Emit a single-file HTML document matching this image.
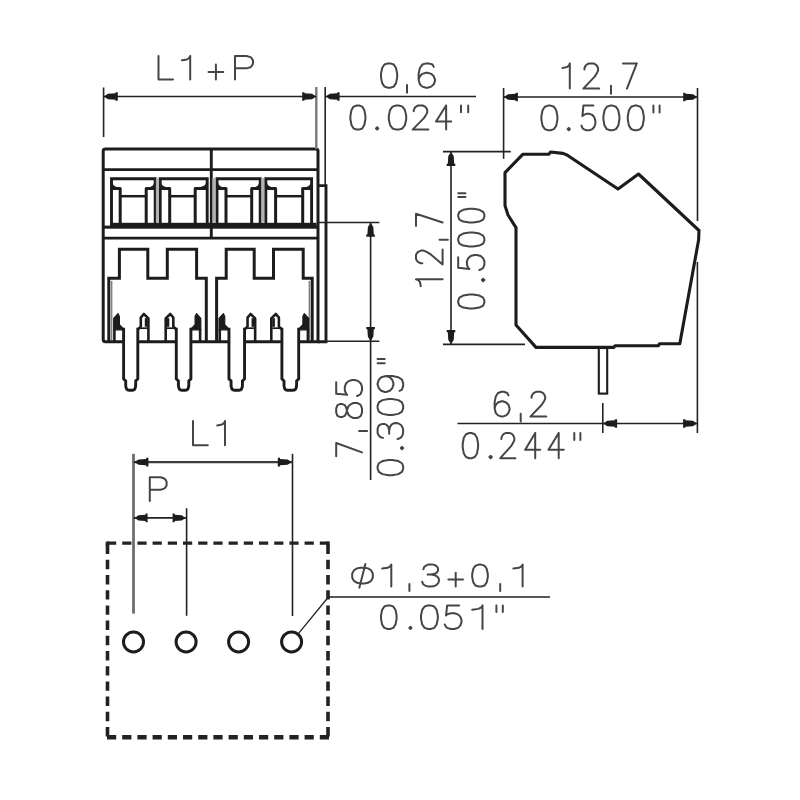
<!DOCTYPE html>
<html><head><meta charset="utf-8"><title>Dimension drawing</title>
<style>
html,body{margin:0;padding:0;background:#fff;font-family:"Liberation Sans",sans-serif;}
svg{display:block}
</style></head><body>
<svg width="800" height="800" viewBox="0 0 800 800">
<defs><filter id="soft" x="0" y="0" width="800" height="800" filterUnits="userSpaceOnUse"><feGaussianBlur stdDeviation="0.5"/></filter></defs>
<rect width="800" height="800" fill="#fff"/>
<g filter="url(#soft)">
<rect width="800" height="800" fill="#fff"/>
<path d="M105.3,149 H316 Q318,149 318,151 V341.8 H105.3 Q103.2,341.8 103.2,339.6 V151.2 Q103.2,149 105.3,149 Z" fill="none" stroke="#1f1b1c" stroke-width="3.00"/>
<line x1="103.20" y1="169.60" x2="318.00" y2="169.60" stroke="#1f1b1c" stroke-width="2.90" stroke-linecap="butt"/>
<rect x="103.2" y="225.6" width="214" height="3.1" fill="#1f1b1c"/>
<rect x="110" y="222.8" width="206.5" height="3.2" fill="#1f1b1c"/>
<line x1="103.20" y1="238.10" x2="318.00" y2="238.10" stroke="#1f1b1c" stroke-width="2.70" stroke-linecap="butt"/>
<line x1="211.30" y1="149.00" x2="211.30" y2="238.10" stroke="#1f1b1c" stroke-width="2.90" stroke-linecap="butt"/>
<path d="M111.50,224.00 L111.50,178.80 L155.20,178.80 L155.20,224.00" fill="none" stroke="#1f1b1c" stroke-width="2.90" stroke-linejoin="miter"/>
<path d="M111.50,188.4 H120.20 V223" fill="none" stroke="#1f1b1c" stroke-width="3.0" stroke-linejoin="round"/>
<path d="M155.20,188.4 H146.20 V223" fill="none" stroke="#1f1b1c" stroke-width="3.0" stroke-linejoin="round"/>
<path d="M112.50,182.5 Q113.50,187 118.70,187.6 V189 H112.50 Z" fill="#1f1b1c"/>
<path d="M154.20,182.5 Q153.20,187 147.70,187.6 V189 H154.20 Z" fill="#1f1b1c"/>
<line x1="120.20" y1="196.20" x2="146.20" y2="196.20" stroke="#1f1b1c" stroke-width="2.50" stroke-linecap="butt"/>
<path d="M160.20,224.00 L160.20,178.80 L207.20,178.80 L207.20,224.00" fill="none" stroke="#1f1b1c" stroke-width="2.90" stroke-linejoin="miter"/>
<path d="M160.20,188.4 H169.70 V223" fill="none" stroke="#1f1b1c" stroke-width="3.0" stroke-linejoin="round"/>
<path d="M207.20,188.4 H195.20 V223" fill="none" stroke="#1f1b1c" stroke-width="3.0" stroke-linejoin="round"/>
<path d="M161.20,182.5 Q162.20,187 168.20,187.6 V189 H161.20 Z" fill="#1f1b1c"/>
<path d="M206.20,182.5 Q205.20,187 196.70,187.6 V189 H206.20 Z" fill="#1f1b1c"/>
<line x1="169.70" y1="196.20" x2="195.20" y2="196.20" stroke="#1f1b1c" stroke-width="2.50" stroke-linecap="butt"/>
<path d="M217.00,224.00 L217.00,178.80 L260.20,178.80 L260.20,224.00" fill="none" stroke="#1f1b1c" stroke-width="2.90" stroke-linejoin="miter"/>
<path d="M217.00,188.4 H226.00 V223" fill="none" stroke="#1f1b1c" stroke-width="3.0" stroke-linejoin="round"/>
<path d="M260.20,188.4 H251.70 V223" fill="none" stroke="#1f1b1c" stroke-width="3.0" stroke-linejoin="round"/>
<path d="M218.00,182.5 Q219.00,187 224.50,187.6 V189 H218.00 Z" fill="#1f1b1c"/>
<path d="M259.20,182.5 Q258.20,187 253.20,187.6 V189 H259.20 Z" fill="#1f1b1c"/>
<line x1="226.00" y1="196.20" x2="251.70" y2="196.20" stroke="#1f1b1c" stroke-width="2.50" stroke-linecap="butt"/>
<path d="M265.80,224.00 L265.80,178.80 L311.60,178.80 L311.60,224.00" fill="none" stroke="#1f1b1c" stroke-width="2.90" stroke-linejoin="miter"/>
<path d="M265.80,188.4 H275.60 V223" fill="none" stroke="#1f1b1c" stroke-width="3.0" stroke-linejoin="round"/>
<path d="M311.60,188.4 H302.70 V223" fill="none" stroke="#1f1b1c" stroke-width="3.0" stroke-linejoin="round"/>
<path d="M266.80,182.5 Q267.80,187 274.10,187.6 V189 H266.80 Z" fill="#1f1b1c"/>
<path d="M310.60,182.5 Q309.60,187 304.20,187.6 V189 H310.60 Z" fill="#1f1b1c"/>
<line x1="275.60" y1="196.20" x2="302.70" y2="196.20" stroke="#1f1b1c" stroke-width="2.50" stroke-linecap="butt"/>
<line x1="157.40" y1="178.00" x2="157.40" y2="222.60" stroke="#b2b2b2" stroke-width="3.00" stroke-linecap="butt"/>
<line x1="213.90" y1="178.00" x2="213.90" y2="222.60" stroke="#b2b2b2" stroke-width="3.00" stroke-linecap="butt"/>
<line x1="262.70" y1="178.00" x2="262.70" y2="222.60" stroke="#b2b2b2" stroke-width="3.00" stroke-linecap="butt"/>
<path d="M108.80,341.80 L108.80,278.20 L119.40,278.20 L119.40,249.20 L147.80,249.20 L147.80,278.20 L167.30,278.20 L167.30,249.20 L196.60,249.20 L196.60,278.20 L206.30,278.20 L206.30,341.80" fill="none" stroke="#1f1b1c" stroke-width="3.00" stroke-linejoin="miter"/>
<path d="M216.60,341.80 L216.60,278.20 L226.20,278.20 L226.20,249.20 L254.20,249.20 L254.20,278.20 L273.50,278.20 L273.50,249.20 L303.20,249.20 L303.20,278.20 L312.20,278.20 L312.20,341.80" fill="none" stroke="#1f1b1c" stroke-width="3.00" stroke-linejoin="miter"/>
<line x1="111.60" y1="281.00" x2="111.60" y2="340.00" stroke="#808080" stroke-width="1.60" stroke-linecap="butt"/>
<line x1="309.40" y1="281.00" x2="309.40" y2="340.00" stroke="#808080" stroke-width="1.60" stroke-linecap="butt"/>
<path d="M318.00,185.60 L326.00,185.60 L326.00,341.80 L318.00,341.80" fill="none" stroke="#1f1b1c" stroke-width="2.90" stroke-linejoin="miter"/>
<rect x="123.60" y="330" width="14.20" height="14" fill="#fff"/>
<path d="M123.60,327.8 V379 L125.70,380.8 V385.4 Q126.00,390.3 129.00,390.3 H132.40 Q135.40,390.3 135.70,385.4 V380.8 L137.80,379 V327.8" fill="#fff" stroke="#1f1b1c" stroke-width="2.9" stroke-linejoin="round"/>
<path d="M113.70,329.8 V318.5 L118.00,313.6 L119.40,316.5 V324.6 L123.20,328.6 L123.20,329.8 Z" fill="#1f1b1c" stroke="#1f1b1c" stroke-width="1.2" stroke-linejoin="round"/>
<line x1="114.40" y1="329.00" x2="114.40" y2="341.50" stroke="#1f1b1c" stroke-width="2.60" stroke-linecap="butt"/>
<path d="M138.00,329.2 L140.80,326.6 V317.6 L143.80,314 L148.40,318.4 V341.5" fill="none" stroke="#1f1b1c" stroke-width="2.6" stroke-linejoin="round"/>
<path d="M146.10,318.2 V326.8" fill="none" stroke="#1f1b1c" stroke-width="2.6"/>
<line x1="138.20" y1="328.20" x2="147.40" y2="328.20" stroke="#1f1b1c" stroke-width="1.70" stroke-linecap="butt"/>
<rect x="176.30" y="330" width="14.60" height="14" fill="#fff"/>
<path d="M176.30,327.8 V379 L178.40,380.8 V385.4 Q178.70,390.3 181.70,390.3 H185.50 Q188.50,390.3 188.80,385.4 V380.8 L190.90,379 V327.8" fill="#fff" stroke="#1f1b1c" stroke-width="2.9" stroke-linejoin="round"/>
<path d="M176.10,329.2 L173.30,326.6 V317.6 L170.30,314 L165.70,318.4 V341.5" fill="none" stroke="#1f1b1c" stroke-width="2.6" stroke-linejoin="round"/>
<path d="M168.00,318.2 V326.8" fill="none" stroke="#1f1b1c" stroke-width="2.6"/>
<line x1="175.90" y1="328.20" x2="166.70" y2="328.20" stroke="#1f1b1c" stroke-width="1.70" stroke-linecap="butt"/>
<path d="M200.80,329.8 V318.5 L196.50,313.6 L195.10,316.5 V324.6 L191.30,328.6 L191.30,329.8 Z" fill="#1f1b1c" stroke="#1f1b1c" stroke-width="1.2" stroke-linejoin="round"/>
<line x1="200.10" y1="329.00" x2="200.10" y2="341.50" stroke="#1f1b1c" stroke-width="2.60" stroke-linecap="butt"/>
<rect x="228.95" y="330" width="15.60" height="14" fill="#fff"/>
<path d="M228.95,327.8 V379 L231.05,380.8 V385.4 Q231.35,390.3 234.35,390.3 H239.15 Q242.15,390.3 242.45,385.4 V380.8 L244.55,379 V327.8" fill="#fff" stroke="#1f1b1c" stroke-width="2.9" stroke-linejoin="round"/>
<path d="M219.05,329.8 V318.5 L223.35,313.6 L224.75,316.5 V324.6 L228.55,328.6 L228.55,329.8 Z" fill="#1f1b1c" stroke="#1f1b1c" stroke-width="1.2" stroke-linejoin="round"/>
<line x1="219.75" y1="329.00" x2="219.75" y2="341.50" stroke="#1f1b1c" stroke-width="2.60" stroke-linecap="butt"/>
<path d="M244.75,329.2 L247.55,326.6 V317.6 L250.55,314 L255.15,318.4 V341.5" fill="none" stroke="#1f1b1c" stroke-width="2.6" stroke-linejoin="round"/>
<path d="M252.85,318.2 V326.8" fill="none" stroke="#1f1b1c" stroke-width="2.6"/>
<line x1="244.95" y1="328.20" x2="254.15" y2="328.20" stroke="#1f1b1c" stroke-width="1.70" stroke-linecap="butt"/>
<rect x="281.90" y="330" width="16.80" height="14" fill="#fff"/>
<path d="M281.90,327.8 V379 L284.00,380.8 V385.4 Q284.30,390.3 287.30,390.3 H293.30 Q296.30,390.3 296.60,385.4 V380.8 L298.70,379 V327.8" fill="#fff" stroke="#1f1b1c" stroke-width="2.9" stroke-linejoin="round"/>
<path d="M281.70,329.2 L278.90,326.6 V317.6 L275.90,314 L271.30,318.4 V341.5" fill="none" stroke="#1f1b1c" stroke-width="2.6" stroke-linejoin="round"/>
<path d="M273.60,318.2 V326.8" fill="none" stroke="#1f1b1c" stroke-width="2.6"/>
<line x1="281.50" y1="328.20" x2="272.30" y2="328.20" stroke="#1f1b1c" stroke-width="1.70" stroke-linecap="butt"/>
<path d="M308.60,329.8 V318.5 L304.30,313.6 L302.90,316.5 V324.6 L299.10,328.6 L299.10,329.8 Z" fill="#1f1b1c" stroke="#1f1b1c" stroke-width="1.2" stroke-linejoin="round"/>
<line x1="307.90" y1="329.00" x2="307.90" y2="341.50" stroke="#1f1b1c" stroke-width="2.60" stroke-linecap="butt"/>
<line x1="103.60" y1="87.50" x2="103.60" y2="137.00" stroke="#222222" stroke-width="1.60" stroke-linecap="butt"/>
<line x1="316.30" y1="87.00" x2="316.30" y2="149.00" stroke="#7a7a7a" stroke-width="2.40" stroke-linecap="butt"/>
<line x1="325.20" y1="87.00" x2="325.20" y2="185.00" stroke="#222222" stroke-width="1.60" stroke-linecap="butt"/>
<line x1="103.60" y1="96.50" x2="316.40" y2="96.50" stroke="#222222" stroke-width="1.60" stroke-linecap="butt"/>
<polygon points="103.80,96.50 108.00,99.22 115.56,99.70 115.56,100.80 117.80,100.80 117.80,92.20 115.56,92.20 115.56,93.30 108.00,93.78" fill="#1c1c1c"/>
<polygon points="316.20,96.50 312.00,99.22 304.44,99.70 304.44,100.80 302.20,100.80 302.20,92.20 304.44,92.20 304.44,93.30 312.00,93.78" fill="#1c1c1c"/>
<line x1="325.20" y1="96.50" x2="476.00" y2="96.50" stroke="#222222" stroke-width="1.60" stroke-linecap="butt"/>
<polygon points="325.60,96.50 329.80,99.22 337.36,99.70 337.36,100.80 339.60,100.80 339.60,92.20 337.36,92.20 337.36,93.30 329.80,93.78" fill="#1c1c1c"/>
<path d="M158.50,56.00 L158.50,79.60 L173.00,79.60 M182.00,60.27 L186.92,59.48 L189.22,58.02 L190.20,56.00 L190.20,79.60 M215.90,64.58 L215.90,79.60 M208.50,72.09 L223.30,72.09 M235.00,56.00 L235.00,79.60 M235.00,56.00 L246.57,56.00 L250.43,57.12 L251.71,58.25 L253.00,60.50 L253.00,63.87 L251.71,66.11 L250.43,67.24 L246.57,68.36 L235.00,68.36" fill="none" stroke="#454545" stroke-width="2.00" stroke-linecap="round" stroke-linejoin="round"/>
<path d="M387.94,63.40 L384.47,64.56 L382.16,68.05 L381.00,73.86 L381.00,77.34 L382.16,83.15 L384.47,86.64 L387.94,87.80 L390.26,87.80 L393.73,86.64 L396.04,83.15 L397.20,77.34 L397.20,73.86 L396.04,68.05 L393.73,64.56 L390.26,63.40 L387.94,63.40 M407.00,85.01 L407.00,92.68 M433.74,66.89 L432.48,64.56 L428.69,63.40 L426.17,63.40 L422.38,64.56 L419.86,68.05 L418.60,73.86 L418.60,79.67 L419.86,84.31 L422.38,86.64 L426.17,87.80 L427.43,87.80 L431.22,86.64 L433.74,84.31 L435.00,80.83 L435.00,79.67 L433.74,76.18 L431.22,73.86 L427.43,72.70 L426.17,72.70 L422.38,73.86 L419.86,76.18 L418.60,79.67" fill="none" stroke="#454545" stroke-width="2.00" stroke-linecap="round" stroke-linejoin="round"/>
<path d="M356.83,105.50 L353.61,106.65 L351.47,110.09 L350.40,115.83 L350.40,119.27 L351.47,125.01 L353.61,128.45 L356.83,129.60 L358.97,129.60 L362.19,128.45 L364.33,125.01 L365.40,119.27 L365.40,115.83 L364.33,110.09 L362.19,106.65 L358.97,105.50 L356.83,105.50 M377.15,127.30 L376.00,128.45 L377.15,129.60 L378.30,128.45 L377.15,127.30 M396.26,105.50 L392.53,106.65 L390.04,110.09 L388.80,115.83 L388.80,119.27 L390.04,125.01 L392.53,128.45 L396.26,129.60 L398.74,129.60 L402.47,128.45 L404.96,125.01 L406.20,119.27 L406.20,115.83 L404.96,110.09 L402.47,106.65 L398.74,105.50 L396.26,105.50 M413.73,111.24 L413.73,110.09 L414.86,107.80 L415.99,106.65 L418.24,105.50 L422.76,105.50 L425.01,106.65 L426.14,107.80 L427.27,110.09 L427.27,112.39 L426.14,114.68 L423.89,118.12 L412.60,129.60 L428.40,129.60 M446.13,105.50 L436.00,121.57 L451.20,121.57 M446.13,105.50 L446.13,129.60 M461.00,105.50 L461.00,112.16 M468.20,105.50 L468.20,112.16" fill="none" stroke="#454545" stroke-width="2.00" stroke-linecap="round" stroke-linejoin="round"/>
<line x1="318.00" y1="222.50" x2="379.40" y2="222.50" stroke="#222222" stroke-width="1.60" stroke-linecap="butt"/>
<line x1="327.00" y1="341.30" x2="379.40" y2="341.30" stroke="#222222" stroke-width="1.60" stroke-linecap="butt"/>
<line x1="370.60" y1="222.50" x2="370.60" y2="480.00" stroke="#222222" stroke-width="1.60" stroke-linecap="butt"/>
<polygon points="370.60,222.80 373.32,227.00 373.80,234.56 374.90,234.56 374.90,236.80 366.30,236.80 366.30,234.56 367.40,234.56 367.88,227.00" fill="#1c1c1c"/>
<polygon points="370.60,341.00 373.32,336.80 373.80,329.24 374.90,329.24 374.90,327.00 366.30,327.00 366.30,329.24 367.40,329.24 367.88,336.80" fill="#1c1c1c"/>
<path d="M-443.00,336.20 L-452.43,362.00 M-456.20,336.20 L-443.00,336.20 M-431.00,359.05 L-431.00,367.16 M-412.64,336.20 L-415.86,337.43 L-416.93,339.89 L-416.93,342.34 L-415.86,344.80 L-413.71,346.03 L-409.43,347.26 L-406.21,348.49 L-404.07,350.94 L-403.00,353.40 L-403.00,357.09 L-404.07,359.54 L-405.14,360.77 L-408.36,362.00 L-412.64,362.00 L-415.86,360.77 L-416.93,359.54 L-418.00,357.09 L-418.00,353.40 L-416.93,350.94 L-414.79,348.49 L-411.57,347.26 L-407.29,346.03 L-405.14,344.80 L-404.07,342.34 L-404.07,339.89 L-405.14,337.43 L-408.36,336.20 L-412.64,336.20 M-382.29,336.20 L-393.71,336.20 L-394.86,347.26 L-393.71,346.03 L-390.29,344.80 L-386.86,344.80 L-383.43,346.03 L-381.14,348.49 L-380.00,352.17 L-380.00,354.63 L-381.14,358.31 L-383.43,360.77 L-386.86,362.00 L-390.29,362.00 L-393.71,360.77 L-394.86,359.54 L-396.00,357.09" fill="none" stroke="#454545" stroke-width="2.00" stroke-linecap="round" stroke-linejoin="round" transform="rotate(-90)"/>
<path d="M-468.69,377.60 L-471.94,378.82 L-474.11,382.48 L-475.20,388.57 L-475.20,392.23 L-474.11,398.32 L-471.94,401.98 L-468.69,403.20 L-466.51,403.20 L-463.26,401.98 L-461.09,398.32 L-460.00,392.23 L-460.00,388.57 L-461.09,382.48 L-463.26,378.82 L-466.51,377.60 L-468.69,377.60 M-448.08,400.76 L-449.30,401.98 L-448.08,403.20 L-446.86,401.98 L-448.08,400.76 M-437.86,383.09 L-437.17,380.53 L-435.57,378.82 L-433.29,377.60 L-428.71,377.60 L-426.09,378.58 L-424.60,380.28 L-423.91,382.48 L-423.91,384.43 L-424.83,386.62 L-426.89,388.33 L-430.43,389.18 L-433.86,389.18 M-430.43,389.18 L-426.89,390.03 L-424.60,391.50 L-423.23,393.94 L-423.00,395.89 L-423.46,398.57 L-425.29,401.25 L-428.14,402.83 L-431.00,403.20 L-433.86,402.96 L-436.71,401.74 L-438.31,399.79 L-439.00,397.59 M-408.14,377.60 L-411.57,378.82 L-413.86,382.48 L-415.00,388.57 L-415.00,392.23 L-413.86,398.32 L-411.57,401.98 L-408.14,403.20 L-405.86,403.20 L-402.43,401.98 L-400.14,398.32 L-399.00,392.23 L-399.00,388.57 L-400.14,382.48 L-402.43,378.82 L-405.86,377.60 L-408.14,377.60 M-376.00,386.13 L-377.23,389.79 L-379.69,392.23 L-383.38,393.45 L-384.62,393.45 L-388.31,392.23 L-390.77,389.79 L-392.00,386.13 L-392.00,384.91 L-390.77,381.26 L-388.31,378.82 L-384.62,377.60 L-383.38,377.60 L-379.69,378.82 L-377.23,381.26 L-376.00,386.13 L-376.00,392.23 L-377.23,398.32 L-379.69,401.98 L-383.38,403.20 L-385.85,403.20 L-389.54,401.98 L-390.77,399.54 M-363.20,377.60 L-363.20,384.67 M-359.00,377.60 L-359.00,384.67" fill="none" stroke="#454545" stroke-width="2.00" stroke-linecap="round" stroke-linejoin="round" transform="rotate(-90)"/>
<path d="M523.00,154.20 L549.00,154.20 L550.50,152.00 L563.00,153.40 L567.00,155.00 L618.00,189.00 L638.50,174.00 L699.00,230.50 L698.60,240.00 L679.80,343.70 L659.70,343.70 L658.20,345.70 L615.10,345.70 L613.70,347.40 L536.00,347.40 L516.00,325.00 L516.00,227.60 L508.00,215.00 L505.00,205.60 L505.00,172.60 Z" fill="none" stroke="#1f1b1c" stroke-width="3.10" stroke-linejoin="round"/>
<rect x="598.8" y="348" width="8.4" height="45.6" fill="#fff" stroke="#1f1b1c" stroke-width="2.1"/>
<line x1="503.60" y1="88.00" x2="503.60" y2="158.80" stroke="#222222" stroke-width="1.60" stroke-linecap="butt"/>
<line x1="697.50" y1="88.00" x2="697.50" y2="221.00" stroke="#222222" stroke-width="1.60" stroke-linecap="butt"/>
<line x1="503.60" y1="97.00" x2="697.50" y2="97.00" stroke="#222222" stroke-width="1.60" stroke-linecap="butt"/>
<polygon points="503.90,97.00 508.10,99.72 515.66,100.20 515.66,101.30 517.90,101.30 517.90,92.70 515.66,92.70 515.66,93.80 508.10,94.28" fill="#1c1c1c"/>
<polygon points="697.20,97.00 693.00,99.72 685.44,100.20 685.44,101.30 683.20,101.30 683.20,92.70 685.44,92.70 685.44,93.80 693.00,94.28" fill="#1c1c1c"/>
<path d="M562.50,67.96 L566.88,67.12 L568.92,65.56 L569.80,63.40 L569.80,88.60 M584.44,69.40 L584.44,68.20 L585.57,65.80 L586.71,64.60 L588.98,63.40 L593.52,63.40 L595.79,64.60 L596.93,65.80 L598.06,68.20 L598.06,70.60 L596.93,73.00 L594.66,76.60 L583.30,88.60 L599.20,88.60 M611.00,85.72 L611.00,93.64 M636.80,63.40 L626.94,88.60 M623.00,63.40 L636.80,63.40" fill="none" stroke="#454545" stroke-width="2.00" stroke-linecap="round" stroke-linejoin="round"/>
<path d="M548.26,105.60 L544.83,106.78 L542.54,110.30 L541.40,116.19 L541.40,119.71 L542.54,125.60 L544.83,129.12 L548.26,130.30 L550.54,130.30 L553.97,129.12 L556.26,125.60 L557.40,119.71 L557.40,116.19 L556.26,110.30 L553.97,106.78 L550.54,105.60 L548.26,105.60 M568.78,127.95 L567.60,129.12 L568.78,130.30 L569.95,129.12 L568.78,127.95 M593.40,105.60 L583.40,105.60 L582.40,116.19 L583.40,115.01 L586.40,113.83 L589.40,113.83 L592.40,115.01 L594.40,117.36 L595.40,120.89 L595.40,123.24 L594.40,126.77 L592.40,129.12 L589.40,130.30 L586.40,130.30 L583.40,129.12 L582.40,127.95 L581.40,125.60 M610.26,105.60 L606.83,106.78 L604.54,110.30 L603.40,116.19 L603.40,119.71 L604.54,125.60 L606.83,129.12 L610.26,130.30 L612.54,130.30 L615.97,129.12 L618.26,125.60 L619.40,119.71 L619.40,116.19 L618.26,110.30 L615.97,106.78 L612.54,105.60 L610.26,105.60 M634.66,105.60 L631.23,106.78 L628.94,110.30 L627.80,116.19 L627.80,119.71 L628.94,125.60 L631.23,129.12 L634.66,130.30 L636.94,130.30 L640.37,129.12 L642.66,125.60 L643.80,119.71 L643.80,116.19 L642.66,110.30 L640.37,106.78 L636.94,105.60 L634.66,105.60 M653.40,105.60 L653.40,112.42 M659.60,105.60 L659.60,112.42" fill="none" stroke="#454545" stroke-width="2.00" stroke-linecap="round" stroke-linejoin="round"/>
<line x1="443.00" y1="151.60" x2="510.80" y2="151.60" stroke="#222222" stroke-width="1.60" stroke-linecap="butt"/>
<line x1="443.00" y1="344.40" x2="525.00" y2="344.40" stroke="#222222" stroke-width="1.60" stroke-linecap="butt"/>
<line x1="451.00" y1="151.60" x2="451.00" y2="344.40" stroke="#222222" stroke-width="1.60" stroke-linecap="butt"/>
<polygon points="451.00,151.90 453.72,156.10 454.20,163.66 455.30,163.66 455.30,165.90 446.70,165.90 446.70,163.66 447.80,163.66 448.28,156.10" fill="#1c1c1c"/>
<polygon points="451.00,344.10 453.72,339.90 454.20,332.34 455.30,332.34 455.30,330.10 446.70,330.10 446.70,332.34 447.80,332.34 448.28,339.90" fill="#1c1c1c"/>
<path d="M-286.20,420.81 L-282.06,419.93 L-280.13,418.28 L-279.30,416.00 L-279.30,442.60 M-263.34,422.33 L-263.34,421.07 L-262.27,418.53 L-261.21,417.27 L-259.08,416.00 L-254.82,416.00 L-252.69,417.27 L-251.63,418.53 L-250.56,421.07 L-250.56,423.60 L-251.63,426.13 L-253.76,429.93 L-264.40,442.60 L-249.50,442.60 M-239.70,439.56 L-239.70,447.92 M-213.80,416.00 L-222.51,442.60 M-226.00,416.00 L-213.80,416.00" fill="none" stroke="#454545" stroke-width="2.00" stroke-linecap="round" stroke-linejoin="round" transform="rotate(-90)"/>
<path d="M-302.56,458.20 L-305.58,459.45 L-307.59,463.19 L-308.60,469.43 L-308.60,473.17 L-307.59,479.41 L-305.58,483.15 L-302.56,484.40 L-300.54,484.40 L-297.52,483.15 L-295.51,479.41 L-294.50,473.17 L-294.50,469.43 L-295.51,463.19 L-297.52,459.45 L-300.54,458.20 L-302.56,458.20 M-280.05,481.90 L-281.30,483.15 L-280.05,484.40 L-278.80,483.15 L-280.05,481.90 M-257.14,458.20 L-267.86,458.20 L-268.93,469.43 L-267.86,468.18 L-264.64,466.93 L-261.43,466.93 L-258.21,468.18 L-256.07,470.68 L-255.00,474.42 L-255.00,476.91 L-256.07,480.66 L-258.21,483.15 L-261.43,484.40 L-264.64,484.40 L-267.86,483.15 L-268.93,481.90 L-270.00,479.41 M-240.60,458.20 L-243.60,459.45 L-245.60,463.19 L-246.60,469.43 L-246.60,473.17 L-245.60,479.41 L-243.60,483.15 L-240.60,484.40 L-238.60,484.40 L-235.60,483.15 L-233.60,479.41 L-232.60,473.17 L-232.60,469.43 L-233.60,463.19 L-235.60,459.45 L-238.60,458.20 L-240.60,458.20 M-216.69,458.20 L-219.64,459.45 L-221.61,463.19 L-222.60,469.43 L-222.60,473.17 L-221.61,479.41 L-219.64,483.15 L-216.69,484.40 L-214.71,484.40 L-211.76,483.15 L-209.79,479.41 L-208.80,473.17 L-208.80,469.43 L-209.79,463.19 L-211.76,459.45 L-214.71,458.20 L-216.69,458.20 M-196.90,458.20 L-196.90,465.44 M-193.20,458.20 L-193.20,465.44" fill="none" stroke="#454545" stroke-width="2.00" stroke-linecap="round" stroke-linejoin="round" transform="rotate(-90)"/>
<line x1="457.50" y1="423.50" x2="697.40" y2="423.50" stroke="#222222" stroke-width="1.60" stroke-linecap="butt"/>
<line x1="602.80" y1="403.00" x2="602.80" y2="433.00" stroke="#222222" stroke-width="1.60" stroke-linecap="butt"/>
<line x1="697.40" y1="262.00" x2="697.40" y2="433.00" stroke="#222222" stroke-width="1.60" stroke-linecap="butt"/>
<polygon points="603.10,423.50 607.30,426.22 614.86,426.70 614.86,427.80 617.10,427.80 617.10,419.20 614.86,419.20 614.86,420.30 607.30,420.78" fill="#1c1c1c"/>
<polygon points="697.10,423.50 692.90,426.22 685.34,426.70 685.34,427.80 683.10,427.80 683.10,419.20 685.34,419.20 685.34,420.30 692.90,420.78" fill="#1c1c1c"/>
<path d="M508.45,395.34 L507.29,392.98 L503.83,391.80 L501.52,391.80 L498.06,392.98 L495.75,396.52 L494.60,402.43 L494.60,408.33 L495.75,413.06 L498.06,415.42 L501.52,416.60 L502.68,416.60 L506.14,415.42 L508.45,413.06 L509.60,409.51 L509.60,408.33 L508.45,404.79 L506.14,402.43 L502.68,401.25 L501.52,401.25 L498.06,402.43 L495.75,404.79 L494.60,408.33 M520.70,413.77 L520.70,421.56 M531.54,397.70 L531.54,396.52 L532.67,394.16 L533.81,392.98 L536.08,391.80 L540.62,391.80 L542.89,392.98 L544.03,394.16 L545.16,396.52 L545.16,398.89 L544.03,401.25 L541.76,404.79 L530.40,416.60 L546.30,416.60" fill="none" stroke="#454545" stroke-width="2.00" stroke-linecap="round" stroke-linejoin="round"/>
<path d="M469.30,433.00 L466.00,434.20 L463.80,437.80 L462.70,443.80 L462.70,447.40 L463.80,453.40 L466.00,457.00 L469.30,458.20 L471.50,458.20 L474.80,457.00 L477.00,453.40 L478.10,447.40 L478.10,443.80 L477.00,437.80 L474.80,434.20 L471.50,433.00 L469.30,433.00 M490.60,455.80 L489.40,457.00 L490.60,458.20 L491.80,457.00 L490.60,455.80 M501.38,439.00 L501.38,437.80 L502.46,435.40 L503.54,434.20 L505.69,433.00 L510.01,433.00 L512.16,434.20 L513.24,435.40 L514.32,437.80 L514.32,440.20 L513.24,442.60 L511.09,446.20 L500.30,458.20 L515.40,458.20 M535.20,433.00 L525.20,449.80 L540.20,449.80 M535.20,433.00 L535.20,458.20 M558.70,433.00 L548.50,449.80 L563.80,449.80 M558.70,433.00 L558.70,458.20 M574.30,433.00 L574.30,439.96 M580.40,433.00 L580.40,439.96" fill="none" stroke="#454545" stroke-width="2.00" stroke-linecap="round" stroke-linejoin="round"/>
<line x1="107.00" y1="543.20" x2="329.80" y2="543.20" stroke="#222" stroke-width="3.20" stroke-dasharray="9.2 6"/>
<line x1="107.00" y1="737.20" x2="329.80" y2="737.20" stroke="#222" stroke-width="4.40" stroke-dasharray="9.2 6"/>
<line x1="107.50" y1="544.60" x2="107.50" y2="739.40" stroke="#222" stroke-width="3.60" stroke-dasharray="9.4 5.8"/>
<line x1="328.00" y1="544.60" x2="328.00" y2="739.40" stroke="#222" stroke-width="3.60" stroke-dasharray="9.4 5.8"/>
<rect x="105.7" y="541.6" width="3.6" height="4" fill="#222"/><rect x="326.2" y="541.6" width="3.6" height="4" fill="#222"/>
<circle cx="133.50" cy="641.9" r="10" fill="#fff" stroke="#1f1b1c" stroke-width="3.0"/>
<circle cx="186.10" cy="641.9" r="10" fill="#fff" stroke="#1f1b1c" stroke-width="3.0"/>
<circle cx="238.60" cy="641.9" r="10" fill="#fff" stroke="#1f1b1c" stroke-width="3.0"/>
<circle cx="291.60" cy="641.9" r="10" fill="#fff" stroke="#1f1b1c" stroke-width="3.0"/>
<line x1="133.50" y1="453.80" x2="133.50" y2="613.60" stroke="#6e6e6e" stroke-width="2.80" stroke-linecap="butt"/>
<line x1="186.60" y1="508.20" x2="186.60" y2="615.80" stroke="#222222" stroke-width="1.60" stroke-linecap="butt"/>
<line x1="292.50" y1="453.80" x2="292.50" y2="616.00" stroke="#222222" stroke-width="1.60" stroke-linecap="butt"/>
<line x1="133.60" y1="462.10" x2="292.50" y2="462.10" stroke="#3c3c3c" stroke-width="2.10" stroke-linecap="butt"/>
<polygon points="134.40,462.10 138.60,464.82 146.16,465.30 146.16,466.40 148.40,466.40 148.40,457.80 146.16,457.80 146.16,458.90 138.60,459.38" fill="#1c1c1c"/>
<polygon points="291.80,462.10 287.60,464.82 280.04,465.30 280.04,466.40 277.80,466.40 277.80,457.80 280.04,457.80 280.04,458.90 287.60,459.38" fill="#1c1c1c"/>
<line x1="133.60" y1="517.90" x2="186.60" y2="517.90" stroke="#222222" stroke-width="1.60" stroke-linecap="butt"/>
<polygon points="134.60,517.90 138.50,520.62 145.52,521.10 145.52,522.20 147.60,522.20 147.60,513.60 145.52,513.60 145.52,514.70 138.50,515.18" fill="#1c1c1c"/>
<polygon points="185.60,517.90 181.70,520.62 174.68,521.10 174.68,522.20 172.60,522.20 172.60,513.60 174.68,513.60 174.68,514.70 181.70,515.18" fill="#1c1c1c"/>
<path d="M193.00,421.00 L193.00,445.30 L207.80,445.30 M217.20,425.40 L221.88,424.59 L224.06,423.08 L225.00,421.00 L225.00,445.30" fill="none" stroke="#454545" stroke-width="2.00" stroke-linecap="round" stroke-linejoin="round"/>
<path d="M149.80,477.30 L149.80,501.00 M149.80,477.30 L160.60,477.30 L164.20,478.43 L165.40,479.56 L166.60,481.81 L166.60,485.20 L165.40,487.46 L164.20,488.59 L160.60,489.71 L149.80,489.71" fill="none" stroke="#454545" stroke-width="2.00" stroke-linecap="round" stroke-linejoin="round"/>
<path d="M297.60,634.60 L328.40,597.00 L550.00,597.00" fill="none" stroke="#222222" stroke-width="1.30" stroke-linejoin="miter"/>
<path d="M359.34,587.65 L365.38,564.08 M360.44,567.74 L357.01,568.37 L353.99,570.26 L352.20,573.50 L352.20,577.70 L353.99,580.94 L357.01,582.83 L360.44,583.46 L364.56,583.46 L367.99,582.83 L371.01,580.94 L372.80,577.70 L372.80,573.50 L371.01,570.26 L367.99,568.37 L364.56,567.74 L360.44,567.74 M382.20,568.58 L387.66,567.85 L390.21,566.49 L391.30,564.60 L391.30,586.60 M409.40,584.09 L409.40,591.00 M423.40,569.31 L424.12,567.11 L425.80,565.65 L428.20,564.60 L433.00,564.60 L435.76,565.44 L437.32,566.90 L438.04,568.79 L438.04,570.47 L437.08,572.35 L434.92,573.82 L431.20,574.55 L427.60,574.55 M431.20,574.55 L434.92,575.29 L437.32,576.54 L438.76,578.64 L439.00,580.31 L438.52,582.62 L436.60,584.92 L433.60,586.29 L430.60,586.60 L427.60,586.39 L424.60,585.34 L422.92,583.67 L422.20,581.78 M455.70,572.64 L455.70,586.60 M448.40,579.62 L463.00,579.62 M478.89,564.60 L475.54,565.65 L473.31,568.79 L472.20,574.03 L472.20,577.17 L473.31,582.41 L475.54,585.55 L478.89,586.60 L481.11,586.60 L484.46,585.55 L486.69,582.41 L487.80,577.17 L487.80,574.03 L486.69,568.79 L484.46,565.65 L481.11,564.60 L478.89,564.60 M500.20,584.09 L500.20,591.00 M513.40,568.58 L518.92,567.85 L521.50,566.49 L522.60,564.60 L522.60,586.60" fill="none" stroke="#454545" stroke-width="2.00" stroke-linecap="round" stroke-linejoin="round"/>
<path d="M387.69,605.40 L384.34,606.52 L382.11,609.90 L381.00,615.51 L381.00,618.89 L382.11,624.50 L384.34,627.88 L387.69,629.00 L389.91,629.00 L393.26,627.88 L395.49,624.50 L396.60,618.89 L396.60,615.51 L395.49,609.90 L393.26,606.52 L389.91,605.40 L387.69,605.40 M410.42,626.75 L409.30,627.88 L410.42,629.00 L411.55,627.88 L410.42,626.75 M428.20,605.40 L424.60,606.52 L422.20,609.90 L421.00,615.51 L421.00,618.89 L422.20,624.50 L424.60,627.88 L428.20,629.00 L430.60,629.00 L434.20,627.88 L436.60,624.50 L437.80,618.89 L437.80,615.51 L436.60,609.90 L434.20,606.52 L430.60,605.40 L428.20,605.40 M459.11,605.40 L447.19,605.40 L445.99,615.51 L447.19,614.39 L450.76,613.27 L454.34,613.27 L457.92,614.39 L460.31,616.64 L461.50,620.01 L461.50,622.26 L460.31,625.63 L457.92,627.88 L454.34,629.00 L450.76,629.00 L447.19,627.88 L445.99,626.75 L444.80,624.50 M472.20,609.67 L478.38,608.88 L481.26,607.42 L482.50,605.40 L482.50,629.00 M496.40,605.40 L496.40,611.92 M502.80,605.40 L502.80,611.92" fill="none" stroke="#454545" stroke-width="2.00" stroke-linecap="round" stroke-linejoin="round"/>
</g>
</svg>
</body></html>
